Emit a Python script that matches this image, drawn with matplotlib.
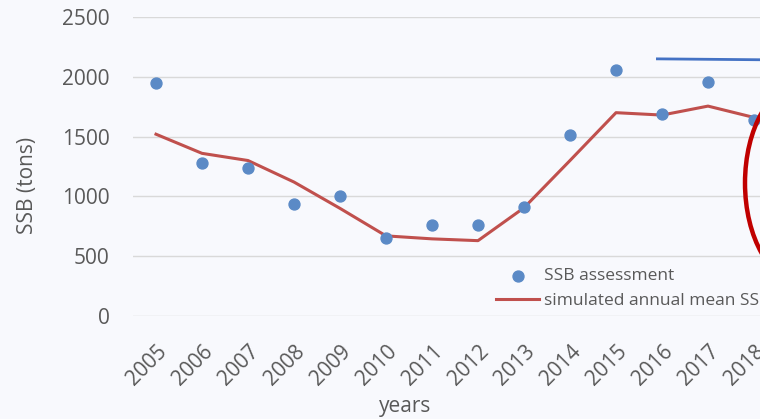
import matplotlib.pyplot as plt
from matplotlib.patches import Ellipse

years = ["2005", "2006", "2007", "2008", "2009", "2010", "2011",
         "2012", "2013", "2014", "2015", "2016", "2017", "2018"]
ssb_assessment = [1950, 1280, 1240, 940, 1000, 650, 760,
                  760, 910, 1510, 2060, 1690, 1960, 1640]
ssb_simulated = [1520, 1360, 1300, 1120, 900, 670, 645,
                 630, 905, 1300, 1700, 1680, 1755, 1660]
# short horizontal reference line drawn at the top right
ref_x = [10.9, 14.5]
ref_y = [2150, 2138]

bg = "#F8F9FD"
grey = "#595959"
plt.rcParams["font.family"] = ["Open Sans", "DejaVu Sans"]

fig = plt.figure(figsize=(7.6, 4.19), dpi=100, facecolor=bg)
W, H = 760.0, 419.0
ax = fig.add_axes([133 / W, (H - 316) / H, 690 / W, 299 / H], facecolor=bg)

x = list(range(len(years)))
ax.plot(x, ssb_simulated, color="#C0504D", lw=2.2, zorder=2,
        label="simulated annual mean SSB")
ax.scatter(x, ssb_assessment, s=62, color="#5B8AC6", zorder=3,
           label="SSB assessment")
ax.plot(ref_x, ref_y, color="#4472C4", lw=2, zorder=2)

ax.set_xlim(-0.5, 14.5)
ax.set_ylim(0, 2500)
ax.set_yticks([0, 500, 1000, 1500, 2000, 2500])
ax.set_xticks(x)
ax.set_xticklabels(years, rotation=45, ha="right", rotation_mode="anchor")
ax.grid(axis="y", color="#D9D9D9", lw=1)
ax.set_axisbelow(True)
for s in ax.spines.values():
    s.set_visible(False)
ax.tick_params(axis="y", length=0, pad=17, labelsize=15, labelcolor=grey)
ax.tick_params(axis="x", length=0, pad=18, labelsize=15, labelcolor=grey)

fig.text(28 / W, 1 - 185 / H, "SSB (tons)", rotation=90, ha="center",
         va="center", fontsize=15, color=grey)
fig.text(405 / W, 1 - 406 / H, "years", ha="center", va="center",
         fontsize=15, color=grey)

h, l = ax.get_legend_handles_labels()
fig.legend(h[::-1], l[::-1], loc="upper left",
           bbox_to_anchor=(496 / W, 1 - 268 / H), frameon=False,
           fontsize=12.5, labelcolor=grey, borderpad=0, borderaxespad=0,
           handlelength=2.5, handletextpad=0.25, labelspacing=0.5)

ell = Ellipse((803 / W, 1 - 183 / H), 116 / W, 200 / H,
              transform=fig.transFigure, fill=False, ec="#C00000", lw=3.2,
              zorder=5)
fig.patches.append(ell)

fig.savefig("out.png", dpi=100, facecolor=bg)
